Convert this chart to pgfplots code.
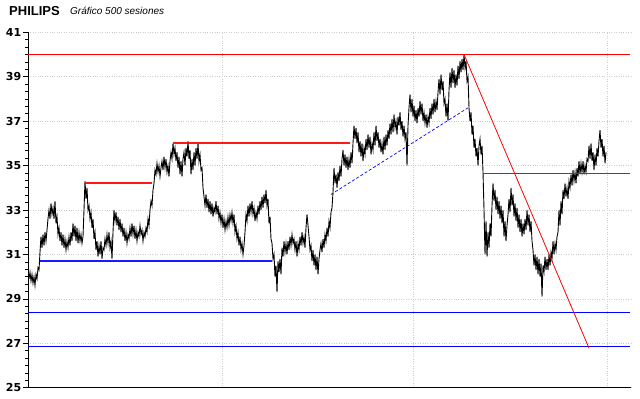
\documentclass[border=0pt]{standalone}
\usepackage{pgfplots}
\pgfplotsset{compat=1.18}
\usepackage{fontspec}
\setmainfont{Liberation Sans}
\newfontfamily\dejavu{DejaVu Sans}
\begin{document}
\begin{tikzpicture}[x=1bp,y=1bp]
\useasboundingbox (0,0) rectangle (640,398);
\node[anchor=base west,inner sep=0pt] at (9,383) {\fontsize{13bp}{15bp}\selectfont\bfseries PHILIPS};
\node[anchor=base west,inner sep=0pt] at (70,384) {\fontsize{10bp}{12bp}\selectfont\itshape Gráfico 500 sesiones};
\begin{axis}[
  at={(28bp,10.3bp)}, anchor=south west,
  scale only axis, width=603bp, height=355.4bp,
  xmin=28, xmax=631, ymin=25, ymax=41,
  axis x line*=bottom, axis y line*=left,
  axis line style={black, line width=0.8pt},
  xtick={222,413,607}, xticklabels={}, x tick style={draw=none},
  ytick={25,27,...,41}, minor y tick num=5,
  tick align=outside, major tick length=5bp, minor tick length=2.5bp,
  y tick style={black, line width=0.6pt},
  xmajorgrids, ymajorgrids,
  major grid style={dotted, gray!40, line width=0.5pt},
  /pgf/number format/assume math mode=true,
  yticklabel style={font=\dejavu\bfseries\fontsize{11bp}{12bp}\selectfont, inner sep=0pt, xshift=-1.5bp},
  clip=false,
]
\addplot[black, line width=0.9pt, no marks] coordinates {
(29,29.9)(30,30.2)(31,29.8)(32,30.1)(33,29.7)(34,30.0)(35,29.6)(36,30.1)(37,29.9)(38,30.4)(39,30.3)(40,31.1)(41,31.8)(42,31.3)(43,31.9)(44,31.4)(45,32.0)(46,31.6)(47,32.1)(48,32.6)(49,33.0)(50,32.6)(51,33.3)(52,32.8)(53,33.1)(54,32.6)(55,33.4)(56,32.4)(57,32.7)(58,31.9)(59,32.2)(60,31.6)(61,32.0)(62,31.4)(63,31.9)(64,31.3)(65,31.7)(66,31.2)(67,31.6)(68,31.3)(69,31.8)(70,31.4)(71,32.0)(72,31.6)(73,32.4)(74,31.8)(75,32.3)(76,31.6)(77,32.2)(78,31.5)(79,32.0)(80,31.6)(81,31.9)(82,31.5)(83,31.8)(84,33.0)(85,34.3)(86,33.5)(87,34.0)(88,33.0)(89,33.2)(90,32.6)(91,32.9)(92,32.2)(93,32.6)(94,31.7)(95,32.0)(96,31.2)(97,31.6)(98,30.9)(99,31.4)(100,31.0)(101,31.6)(102,30.8)(103,31.3)(104,31.2)(105,31.7)(106,31.4)(107,31.9)(108,31.5)(109,32.0)(110,31.3)(111,31.6)(112,30.8)(113,32.0)(114,33.0)(115,32.5)(116,32.9)(117,32.3)(118,32.7)(119,32.1)(120,32.6)(121,32.0)(122,32.4)(123,31.8)(124,32.2)(125,31.6)(126,32.0)(127,31.5)(128,31.9)(129,31.7)(130,32.2)(131,31.8)(132,32.4)(133,31.9)(134,32.3)(135,31.7)(136,32.1)(137,31.6)(138,32.0)(139,31.8)(140,32.3)(141,31.9)(142,32.1)(143,31.6)(144,32.0)(145,31.8)(146,32.2)(147,32.0)(148,32.6)(149,32.3)(150,33.0)(151,33.4)(152,33.2)(153,33.9)(154,34.2)(155,34.8)(156,34.6)(157,35.1)(158,34.7)(159,35.0)(160,34.5)(161,34.9)(162,35.2)(163,34.8)(164,35.4)(165,34.9)(166,35.3)(167,34.7)(168,35.0)(169,34.5)(170,35.2)(171,35.6)(172,35.3)(173,36.0)(174,35.5)(175,35.8)(176,35.2)(177,35.6)(178,34.9)(179,35.4)(180,34.6)(181,35.2)(182,34.5)(183,35.3)(184,35.6)(185,35.0)(186,35.8)(187,35.4)(188,36.1)(189,35.3)(190,35.7)(191,34.6)(192,35.3)(193,34.8)(194,35.6)(195,35.0)(196,35.8)(197,35.3)(198,36.0)(199,35.2)(200,35.5)(201,34.8)(202,34.9)(203,34.0)(204,33.6)(205,33.2)(206,33.7)(207,33.1)(208,33.5)(209,32.9)(210,33.4)(211,32.8)(212,33.3)(213,32.7)(214,33.1)(215,32.9)(216,33.4)(217,32.8)(218,33.2)(219,32.6)(220,32.9)(221,32.4)(222,32.8)(223,32.2)(224,32.6)(225,32.1)(226,32.5)(227,32.2)(228,32.7)(229,32.3)(230,32.8)(231,32.5)(232,32.9)(233,32.4)(234,32.8)(235,32.0)(236,32.3)(237,31.7)(238,32.0)(239,31.4)(240,31.8)(241,31.2)(242,31.5)(243,31.0)(244,31.4)(245,32.0)(246,32.8)(247,32.5)(248,33.2)(249,32.7)(250,33.3)(251,32.9)(252,33.4)(253,32.8)(254,33.1)(255,32.5)(256,32.9)(257,32.6)(258,33.2)(259,32.8)(260,33.4)(261,33.0)(262,33.6)(263,33.1)(264,33.7)(265,33.3)(266,33.9)(267,33.2)(268,33.5)(269,32.4)(270,32.7)(271,31.7)(272,31.5)(273,30.8)(274,31.0)(275,30.0)(276,30.5)(277,29.3)(278,30.7)(279,30.2)(280,30.8)(281,30.1)(282,31.3)(283,30.9)(284,31.6)(285,31.1)(286,31.5)(287,31.0)(288,31.6)(289,31.2)(290,31.8)(291,31.4)(292,31.9)(293,31.5)(294,31.7)(295,31.2)(296,31.6)(297,30.9)(298,31.5)(299,31.2)(300,31.8)(301,31.4)(302,32.0)(303,31.5)(304,31.8)(305,31.3)(306,32.2)(307,32.8)(308,32.3)(309,31.8)(310,31.2)(311,31.4)(312,30.7)(313,31.2)(314,30.5)(315,31.0)(316,30.3)(317,30.9)(318,30.1)(319,30.8)(320,31.2)(321,31.5)(322,31.1)(323,31.7)(324,31.3)(325,31.9)(326,31.6)(327,32.2)(328,31.8)(329,32.5)(330,32.2)(331,32.9)(332,33.1)(333,33.8)(334,34.9)(335,34.2)(336,34.6)(337,34.0)(338,34.7)(339,34.3)(340,35.0)(341,34.5)(342,35.3)(343,35.7)(344,35.0)(345,35.5)(346,34.9)(347,35.4)(348,34.8)(349,35.3)(350,34.9)(351,35.6)(352,35.1)(353,36.0)(354,36.8)(355,36.2)(356,36.7)(357,36.0)(358,36.5)(359,35.6)(360,36.1)(361,35.4)(362,36.0)(363,35.2)(364,35.8)(365,35.5)(366,36.2)(367,35.7)(368,36.4)(369,35.8)(370,36.3)(371,35.5)(372,36.0)(373,35.7)(374,36.5)(375,35.9)(376,36.8)(377,36.1)(378,36.5)(379,35.8)(380,36.2)(381,35.6)(382,36.0)(383,35.5)(384,36.3)(385,35.7)(386,36.4)(387,35.9)(388,36.6)(389,36.2)(390,36.9)(391,36.4)(392,37.1)(393,36.5)(394,37.3)(395,36.7)(396,37.0)(397,36.4)(398,37.2)(399,36.8)(400,37.4)(401,36.6)(402,37.0)(403,36.3)(404,36.8)(405,36.2)(406,36.5)(407,35.0)(408,36.8)(409,37.6)(410,38.2)(411,37.4)(412,38.0)(413,37.2)(414,37.7)(415,37.0)(416,37.5)(417,36.9)(418,37.6)(419,37.2)(420,37.9)(421,37.3)(422,37.8)(423,37.0)(424,37.4)(425,36.9)(426,37.3)(427,36.7)(428,37.2)(429,36.9)(430,37.6)(431,37.1)(432,37.8)(433,37.3)(434,38.0)(435,37.4)(436,37.9)(437,37.5)(438,38.3)(439,38.9)(440,38.2)(441,39.1)(442,38.4)(443,38.8)(444,37.8)(445,38.0)(446,37.2)(447,37.8)(448,37.0)(449,38.4)(450,39.2)(451,38.5)(452,39.4)(453,38.7)(454,39.3)(455,38.5)(456,39.1)(457,38.6)(458,39.5)(459,38.9)(460,39.7)(461,39.2)(462,39.8)(463,39.3)(464,40.0)(465,39.4)(466,39.7)(467,38.8)(468,39.0)(469,37.6)(470,37.0)(471,37.4)(472,36.4)(473,36.8)(474,35.8)(475,36.2)(476,35.4)(477,35.8)(478,35.0)(479,35.9)(480,36.2)(481,35.5)(482,35.9)(483,34.7)(484,33.0)(485,31.0)(486,32.5)(487,30.9)(488,32.0)(489,31.3)(490,32.4)(491,31.8)(492,33.2)(493,34.2)(494,33.4)(495,33.9)(496,33.0)(497,33.6)(498,32.8)(499,33.4)(500,32.6)(501,33.2)(502,32.4)(503,33.0)(504,31.8)(505,32.5)(506,31.6)(507,32.3)(508,32.8)(509,33.5)(510,32.9)(511,34.0)(512,33.2)(513,33.7)(514,32.7)(515,33.3)(516,32.5)(517,33.1)(518,32.2)(519,32.8)(520,32.0)(521,32.6)(522,31.8)(523,32.4)(524,31.9)(525,32.6)(526,32.1)(527,33.0)(528,32.3)(529,32.8)(530,32.0)(531,32.5)(532,31.6)(533,31.2)(534,30.5)(535,31.0)(536,30.3)(537,30.9)(538,30.1)(539,30.8)(540,30.0)(541,30.6)(542,29.1)(543,30.5)(544,30.2)(545,30.9)(546,30.3)(547,30.8)(548,30.3)(549,31.0)(550,30.5)(551,31.1)(552,30.8)(553,31.6)(554,31.0)(555,31.5)(556,31.2)(557,31.8)(558,32.0)(559,33.0)(560,32.3)(561,33.4)(562,32.8)(563,33.9)(564,33.5)(565,34.2)(566,33.6)(567,34.0)(568,33.5)(569,34.3)(570,34.0)(571,34.6)(572,34.1)(573,34.8)(574,34.3)(575,34.7)(576,34.2)(577,34.9)(578,34.5)(579,35.2)(580,34.6)(581,35.1)(582,34.7)(583,35.2)(584,34.6)(585,35.0)(586,34.7)(587,35.3)(588,35.2)(589,35.9)(590,35.3)(591,36.0)(592,35.2)(593,35.6)(594,34.8)(595,35.5)(596,35.0)(597,35.8)(598,35.4)(599,36.1)(600,36.6)(601,35.8)(602,36.2)(603,35.4)(604,35.9)(605,35.1)(606,35.6)
};
% full-width support / resistance lines
\addplot[red, line width=0.8pt] coordinates {(28,40.0)(630,40.0)};
\addplot[blue, line width=0.8pt] coordinates {(28,28.4)(630,28.4)};
\addplot[blue, line width=0.8pt] coordinates {(28,26.85)(630,26.85)};
\addplot[red, line width=0.8pt] coordinates {(483,34.65)(630,34.65)};
% thick segments
\addplot[red, line width=1.8pt, opacity=0.9] coordinates {(85,34.2)(152,34.2)};
\addplot[red, line width=1.8pt, opacity=0.9] coordinates {(173,36.0)(350,36.0)};
\addplot[blue, line width=1.8pt, opacity=0.9] coordinates {(40,30.7)(272,30.7)};
% trend lines
\addplot[red, line width=0.8pt] coordinates {(464,40.0)(589,26.78)};
\addplot[blue, line width=0.7pt, densely dashed] coordinates {(331,33.7)(468,37.6)};
\end{axis}
\end{tikzpicture}
\end{document}
